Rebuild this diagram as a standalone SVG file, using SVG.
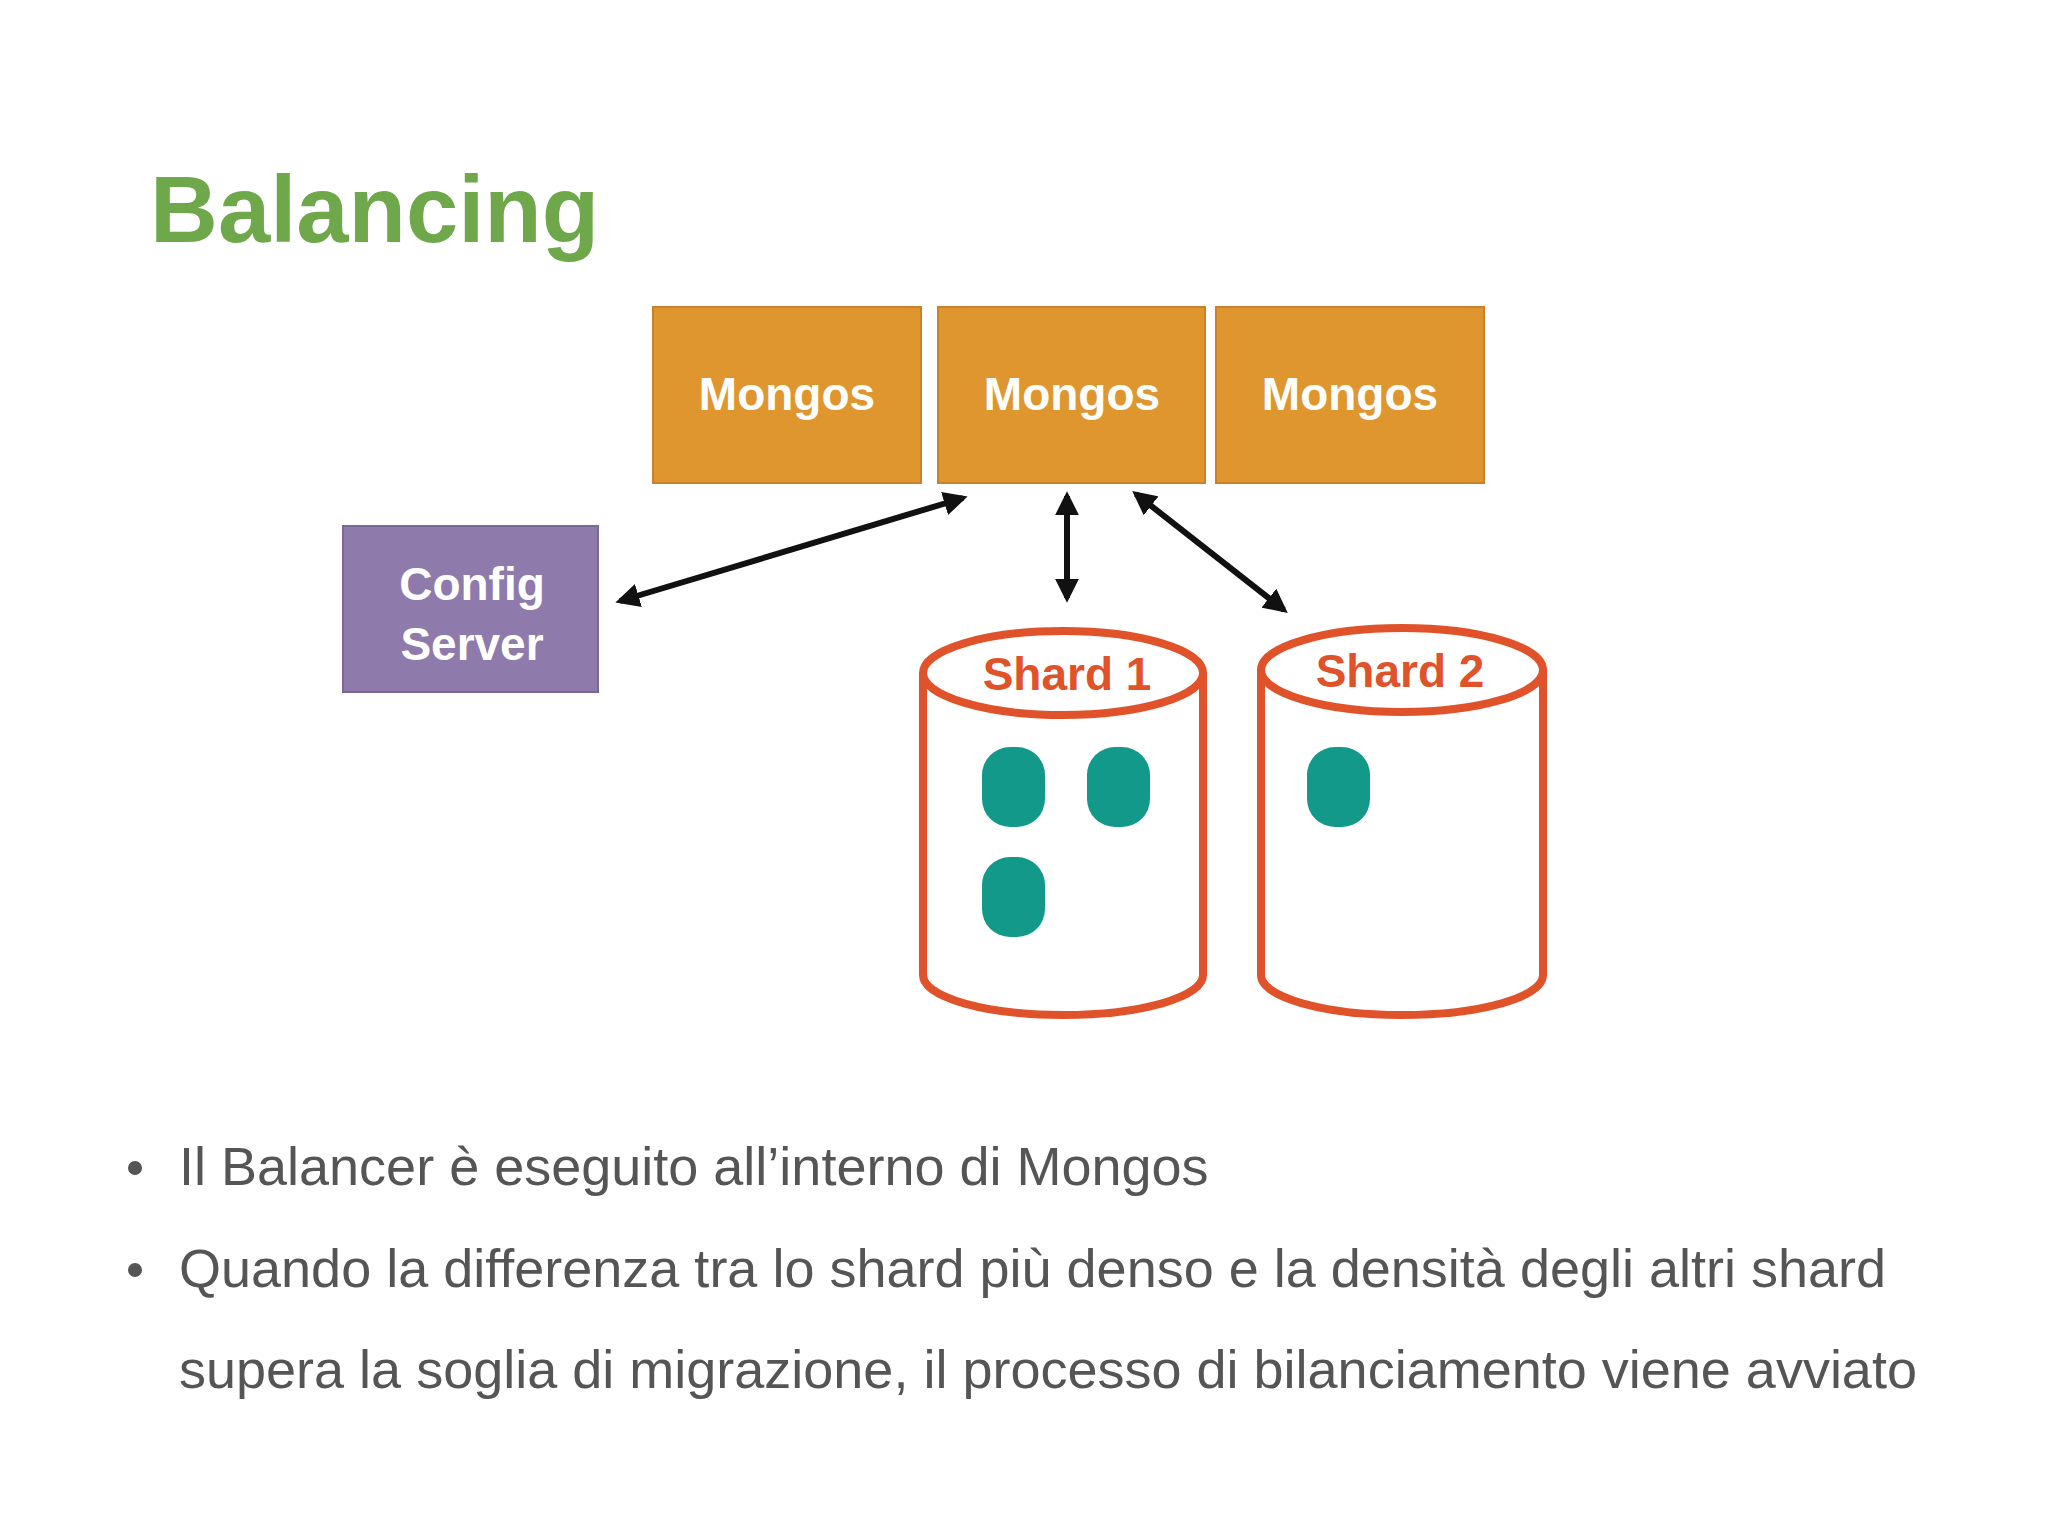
<svg xmlns="http://www.w3.org/2000/svg" width="2048" height="1536" viewBox="0 0 2048 1536">
<defs>
<style>
.m{fill:#e0962f;stroke:#c9822a;stroke-width:2}
.mt{font-family:"Liberation Sans",Arial,sans-serif;font-weight:bold;font-size:46px;fill:#fff;text-anchor:middle}
.sh{fill:#fff;stroke:#e0522a;stroke-width:8}
.st{font-family:"Liberation Sans",Arial,sans-serif;font-weight:bold;font-size:46px;fill:#e0522a;text-anchor:middle}
.ch{fill:#12998a}
.b{font-family:"Liberation Sans",Arial,sans-serif;font-size:54px;fill:#555}
.c{stroke:#111;stroke-width:6;fill:none;marker-start:url(#a);marker-end:url(#a)}
</style>
<marker id="a" viewBox="0 0 10 10" refX="8" refY="5" markerWidth="4" markerHeight="4" orient="auto-start-reverse"><path d="M0,0L10,5L0,10z" fill="#111"/></marker>
</defs>
<rect width="2048" height="1536" fill="#fff"/>
<text x="150" y="242" font-family="Liberation Sans,Arial,sans-serif" font-weight="bold" font-size="94" fill="#6fa84a">Balancing</text>
<g id="mongos1"><rect class="m" x="653" y="307" width="268" height="176"/><text class="mt" x="787" y="410">Mongos</text></g>
<g id="mongos2"><rect class="m" x="938" y="307" width="267" height="176"/><text class="mt" x="1072" y="410">Mongos</text></g>
<g id="mongos3"><rect class="m" x="1216" y="307" width="268" height="176"/><text class="mt" x="1350" y="410">Mongos</text></g>
<g id="config"><rect x="343" y="526" width="255" height="166" fill="#8e7aab" stroke="#7a6896" stroke-width="2"/><text class="mt" x="472" y="600">Config</text><text class="mt" x="472" y="660">Server</text></g>
<g id="shard1"><path class="sh" d="M923,673 V975 A140,40 0 0 0 1203,975 V673"/><ellipse class="sh" cx="1063" cy="673" rx="140" ry="42"/><text class="st" x="1067" y="690">Shard 1</text>
<rect class="ch" x="982" y="747" width="63" height="80" rx="28"/><rect class="ch" x="1087" y="747" width="63" height="80" rx="28"/><rect class="ch" x="982" y="857" width="63" height="80" rx="28"/></g>
<g id="shard2"><path class="sh" d="M1261,670 V975 A141,40 0 0 0 1543,975 V670"/><ellipse class="sh" cx="1402" cy="670" rx="141" ry="42"/><text class="st" x="1400" y="687">Shard 2</text>
<rect class="ch" x="1307" y="747" width="63" height="80" rx="28"/></g>
<g id="connectors">
<line class="c" x1="620" y1="601" x2="963" y2="498"/>
<line class="c" x1="1067" y1="496" x2="1067" y2="598"/>
<line class="c" x1="1136" y1="494" x2="1284" y2="610"/>
</g>
<g id="bullets">
<circle cx="135" cy="1168" r="7" fill="#555"/><text class="b" x="179" y="1185">Il Balancer è eseguito all’interno di Mongos</text>
<circle cx="135" cy="1270" r="7" fill="#555"/><text class="b" x="179" y="1287">Quando la differenza tra lo shard più denso e la densità degli altri shard</text>
<text class="b" x="179" y="1388">supera la soglia di migrazione, il processo di bilanciamento viene avviato</text>
</g>
</svg>
